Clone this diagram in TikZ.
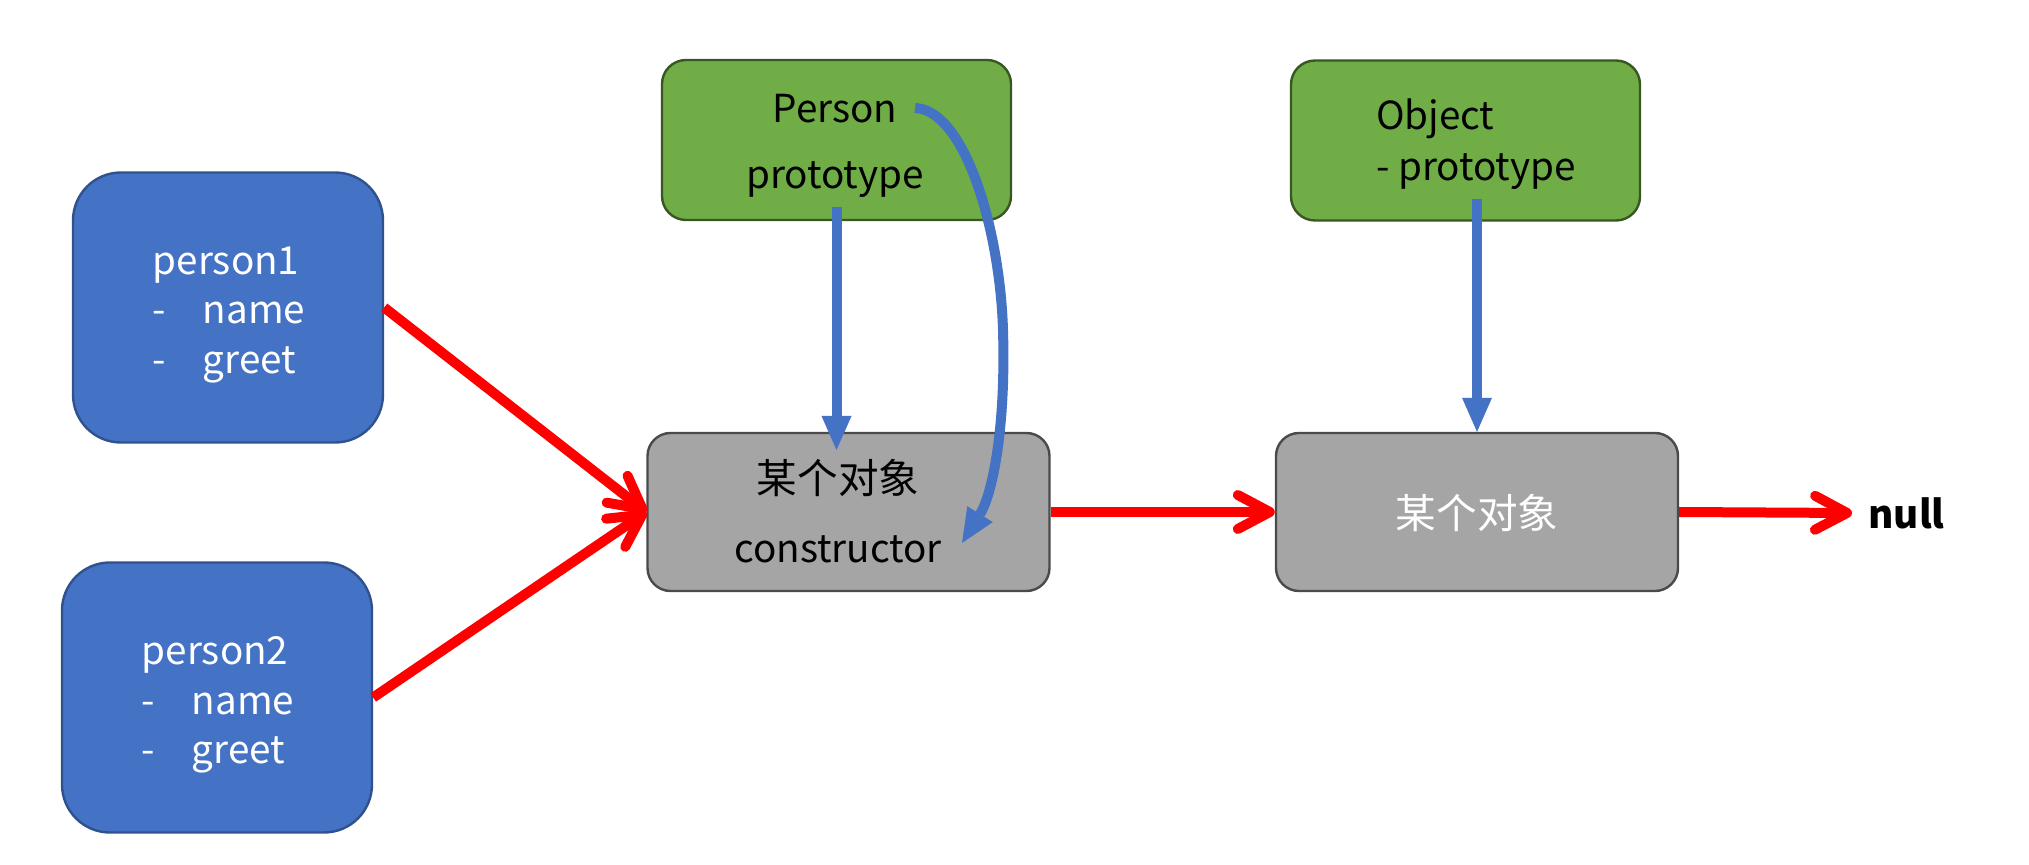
\documentclass[tikz,border=0pt]{standalone}
\usepackage{fontspec}
\setmainfont{Noto Sans CJK SC}
\usetikzlibrary{arrows.meta}
\definecolor{boxblue}{HTML}{4472C4}
\definecolor{boxblueline}{HTML}{2F528F}
\definecolor{boxgreen}{HTML}{70AD47}
\definecolor{boxgreenline}{HTML}{385723}
\definecolor{boxgray}{HTML}{A5A5A5}
\definecolor{boxgrayline}{HTML}{4A4A4A}
\definecolor{arrred}{HTML}{FF0000}
\newcommand{\cjksize}{\fontsize{20.3}{24}\selectfont}
\begin{document}
\begin{tikzpicture}[x=0.5pt,y=-0.5pt,
  base/.style={draw, line width=1.2pt, inner sep=0pt},
  personbox/.style={base, fill=boxblue, draw=boxblueline, rounded corners=24pt, minimum width=155pt, minimum height=135pt},
  protobox/.style={base, fill=boxgreen, draw=boxgreenline, rounded corners=12pt, minimum width=174.5pt, minimum height=80pt},
  objbox/.style={base, fill=boxgray, draw=boxgrayline, rounded corners=11.5pt, minimum width=201pt, minimum height=79pt},
  lbl/.style={inner sep=0pt},
  tightfont/.style={font=\fontsize{19.3}{24.75}\selectfont},
  widefont/.style={font=\fontsize{19.3}{33}\selectfont},
  cjkwidefont/.style={font=\fontsize{19.3}{34.3}\selectfont},
  midfont/.style={font=\fontsize{19.3}{25.75}\selectfont},
  redarrow/.style={draw=arrred, line width=5pt, -{Straight Barb[length=16pt,width=17pt,round]}},
  bluearrow/.style={draw=boxblue, line width=5pt, -{Triangle[length=17pt,width=15pt,line width=0pt]}},
]
\fill[white] (0,0) rectangle (2029,865);
\useasboundingbox (0,0) rectangle (2029,865);

% boxes
\node[personbox] (p1) at (228,307.5) {};
\node[lbl, tightfont, text=white, align=left] (p1t) at (229,315) {person1\\-\hspace{0.95em}name\\-\hspace{0.95em}greet};
\node[personbox] (p2) at (217,697.5) {};
\node[lbl, tightfont, text=white, align=left] (p2t) at (218,705) {person2\\-\hspace{0.95em}name\\-\hspace{0.95em}greet};

\node[protobox] (pb) at (836.5,140) {};
\node[lbl, widefont, align=center] (pbt) at (835,146) {Person\\prototype};
\node[protobox] (ob) at (1465.5,140.5) {};
\node[lbl, midfont, align=left] (obt) at (1476,144) {Object\\- prototype};

\node[objbox] (g1) at (848.5,512) {};
\node[lbl, cjkwidefont, align=center] (g1t) at (838,511) {{\cjksize 某个对象}\\constructor};
\node[objbox] (g2) at (1477,512) {};
\node[lbl, text=white, font=\cjksize] (g2t) at (1477,513) {某个对象};

\node[lbl, font=\fontsize{19.3}{24}\selectfont\bfseries, anchor=west] (nul) at (1868,513) {null};

% red connectors
\draw[redarrow] (p1.east) -- (g1.west);
\draw[redarrow] (p2.east) -- (g1.west);
\draw[redarrow] (g1.east) -- (g2.west);
\draw[redarrow] (g2.east) -- ([xshift=-8pt]nul.west);

% blue connectors
\coordinate (b1s) at (836.5,207);
\coordinate (b1e) at (836.5,450);
\draw[bluearrow] (b1s) -- (b1e);
\coordinate (b2s) at (1477,199);
\draw[bluearrow] (b2s) -- (g2.north);
\coordinate (cs) at (915,108);
\coordinate (ce) at (962,543);
\draw[bluearrow] (cs) .. controls (965,110) and (1000,230) .. (1003,330) .. controls (1006,430) and (992,495) .. (ce);
\end{tikzpicture}
\end{document}
